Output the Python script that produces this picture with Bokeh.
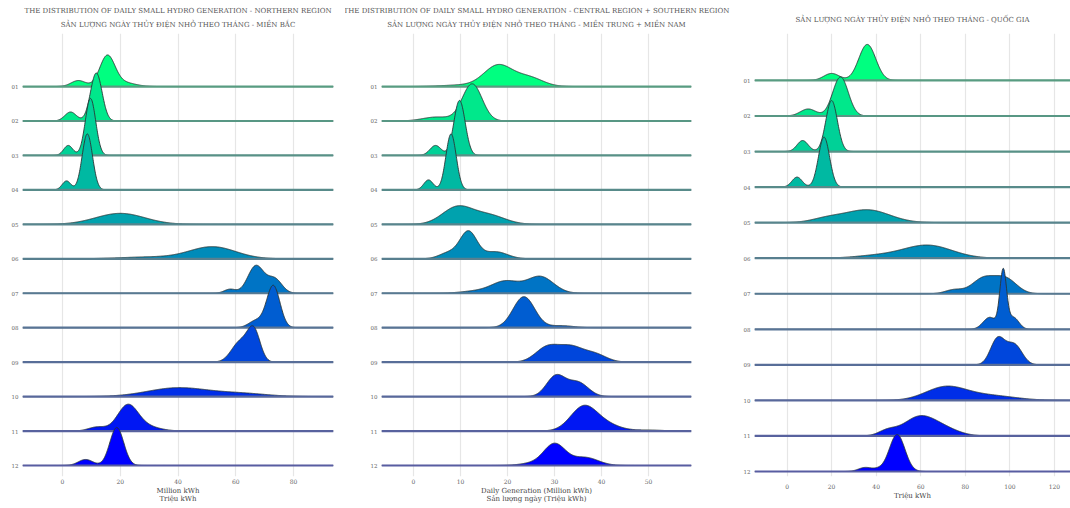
import numpy as np
from bokeh.plotting import figure
from bokeh.layouts import row
from bokeh.models import FixedTicker, Title, Range1d
from bokeh.embed import file_html
from bokeh.resources import INLINE

months = ["01", "02", "03", "04", "05", "06", "07", "08", "09", "10", "11", "12"]

# Density shape of each month: (centre, spread, peak height)
north_components = [
    [(5.5, 2.5, 6), (15.5, 2.6, 30), (21, 4, 4)],
    [(2.8, 2.0, 9), (11.7, 2.0, 48)],
    [(2.0, 1.6, 10), (9.7, 1.8, 57)],
    [(1.4, 1.5, 9), (8.6, 1.8, 56)],
    [(20, 8.5, 11)],
    [(30, 10, 1.8), (52, 8, 12)],
    [(58, 2, 4), (67, 2.8, 27.5), (73.5, 2.5, 14)],
    [(67, 2.5, 7), (73, 2.3, 42)],
    [(61.5, 3, 20), (66.3, 2.2, 30)],
    [(40, 10.5, 8.8), (62, 9, 3)],
    [(12, 3, 4), (22.5, 3.5, 24), (28, 5, 5)],
    [(8, 2.5, 6), (18.8, 2.4, 38)],
]
central_south_components = [
    [(10, 4, 1.5), (18, 3, 21), (24.5, 3, 9)],
    [(5, 3, 4), (12.5, 2.1, 37)],
    [(4.7, 1.2, 10), (9.8, 1.2, 55)],
    [(3.2, 1.0, 10), (8, 1.1, 56)],
    [(9.3, 3.2, 17), (16, 3.5, 9)],
    [(7.5, 2, 6), (11.7, 1.8, 27), (17.5, 2.5, 7)],
    [(13, 3, 2), (19.6, 3, 12), (27, 2.8, 16.5)],
    [(23.5, 2.3, 31), (31.5, 2.5, 2)],
    [(28.5, 2.5, 15), (33.5, 2.5, 14), (38.5, 2.5, 8)],
    [(30.3, 2, 20.5), (35, 2.2, 14)],
    [(36.2, 2.8, 24), (41, 3, 6), (50, 3, 1)],
    [(25, 2.5, 2), (30, 2.3, 21.5), (36.5, 2.8, 8)],
]
national_components = [
    [(20, 3.5, 7), (36, 3.8, 36)],
    [(9.5, 3.5, 7), (24, 3.5, 39)],
    [(7, 2.5, 11), (20, 2.6, 51)],
    [(4.5, 2.3, 10), (16.6, 2.5, 50)],
    [(18, 7, 4), (36, 10, 12.8)],
    [(40, 10, 2.5), (63, 11, 13)],
    [(75, 4, 4), (88, 5, 15), (98, 5, 15)],
    [(91, 3, 12), (97, 1.5, 57), (101.5, 2.5, 12)],
    [(94.5, 3.2, 26), (102, 3.5, 20)],
    [(71, 9, 12.8), (90, 12, 5)],
    [(45, 4, 5), (59, 7, 18), (70, 7, 7)],
    [(35, 3, 4), (41, 2.5, 2), (49.4, 3.5, 37)],
]

north_ticks = [0, 20, 40, 60, 80]
central_south_ticks = [0, 10, 20, 30, 40, 50]
national_ticks = [0, 20, 40, 60, 80, 100, 120]

title_north = ["THE DISTRIBUTION OF DAILY SMALL HYDRO GENERATION - NORTHERN REGION",
               "SẢN LƯỢNG NGÀY THỦY ĐIỆN NHỎ THEO THÁNG - MIỀN BẮC"]
title_cs = ["THE DISTRIBUTION OF DAILY SMALL HYDRO GENERATION - CENTRAL REGION + SOUTHERN REGION",
            "SẢN LƯỢNG NGÀY THỦY ĐIỆN NHỎ THEO THÁNG - MIỀN TRUNG + MIỀN NAM"]
title_nat = ["SẢN LƯỢNG NGÀY THỦY ĐIỆN NHỎ THEO THÁNG - QUỐC GIA"]

xlabel_north = "Million kWh\nTriệu kWh"
xlabel_cs = "Daily Generation (Million kWh)\nSản lượng ngày (Triệu kWh)"
xlabel_nat = "Triệu kWh"

FONT = "DejaVu Serif"
n = len(months)


def winter_r(i):
    t = 1 - i / (n - 1)
    g = int(round(255 * t))
    b = int(round(255 * (1 - 0.5 * t)))
    return "#%02x%02x%02x" % (0, g, b)


def blend(c, gray=(118, 124, 130), w=0.25):
    r, g, b = int(c[1:3], 16), int(c[3:5], 16), int(c[5:7], 16)
    return "#%02x%02x%02x" % tuple(int(w * a + (1 - w) * q) for a, q in zip((r, g, b), gray))


def panel(comps, xr, yr, row_px, width, height, bl, br, bt, bb, ticks, titles, xlabel,
          title_standoffs, xlab_standoff):
    p = figure(width=width, height=height, x_range=Range1d(*xr), y_range=Range1d(*yr),
               output_backend="svg", toolbar_location=None,
               min_border_left=bl, min_border_right=br, min_border_top=bt, min_border_bottom=bb)
    p.outline_line_color = None
    p.background_fill_color = "white"
    p.border_fill_color = "white"
    p.ygrid.grid_line_color = None
    p.xgrid.grid_line_color = "#e6e6e6"
    p.xgrid.grid_line_width = 1.2
    p.xaxis.ticker = FixedTicker(ticks=ticks)
    p.yaxis.ticker = FixedTicker(ticks=[n - 1 - i for i in range(n)])
    p.yaxis.major_label_overrides = {n - 1 - i: m for i, m in enumerate(months)}
    for ax in (p.xaxis[0], p.yaxis[0]):
        ax.axis_line_color = None
        ax.major_tick_line_color = None
        ax.minor_tick_line_color = None
        ax.major_tick_out = 0
        ax.major_tick_in = 0
        ax.minor_tick_out = 0
        ax.minor_tick_in = 0
        ax.major_label_text_font = FONT
        ax.major_label_text_color = "#666666"
    p.yaxis.major_label_standoff = 4
    p.xaxis.major_label_standoff = xlab_standoff
    p.xaxis.major_label_text_font_size = "6px"
    p.yaxis.major_label_text_font_size = "5.5px"
    p.xaxis.axis_label = xlabel
    p.xaxis.axis_label_text_font = FONT
    p.xaxis.axis_label_text_font_size = "7px"
    p.xaxis.axis_label_text_font_style = "normal"
    p.xaxis.axis_label_text_color = "#444444"
    p.xaxis.axis_label_text_line_height = 1.05
    p.xaxis.axis_label_standoff = 0

    xs = np.linspace(xr[0], xr[1], 900)
    for i, cl in enumerate(comps):
        base = n - 1 - i
        h = np.zeros_like(xs)
        for mu, s, a in cl:
            h += a * np.exp(-0.5 * ((xs - mu) / s) ** 2)
        ys = base + h / row_px
        col = winter_r(i)
        p.varea(x=xs, y1=np.full_like(xs, base), y2=ys, fill_color=col)
        p.line(xs, ys, line_color="#2a3636", line_width=1.0, line_alpha=0.9)
        p.line(xs, np.full_like(xs, base), line_color=blend(col), line_width=2.2)

    for t, so in zip(reversed(titles), title_standoffs):
        p.add_layout(Title(text=t, align="center", text_font=FONT, text_font_size="7px",
                           text_font_style="normal", text_color="#555555", standoff=so), "above")
    return p


p1 = panel(north_components, (-13.85, 93.85), (-0.32, 12.54), 34.45, 345, 508, 22, 12, 33, 32,
           north_ticks, title_north, xlabel_north, [10, -3], 2)
p2 = panel(central_south_components, (-6.8, 59.15), (-0.32, 12.54), 34.45, 395, 508, 36, 49, 33, 32,
           central_south_ticks, title_cs, xlabel_cs, [10, -3], 2)
p3 = panel(national_components, (-14.6, 127.2), (-0.14, 12.32), 35.55, 330, 508, 11, 0, 33, 32,
           national_ticks, title_nat, xlabel_nat, [19], 7)

layout = row(p1, p2, p3)
open("out.html", "w").write(file_html(layout, INLINE))
